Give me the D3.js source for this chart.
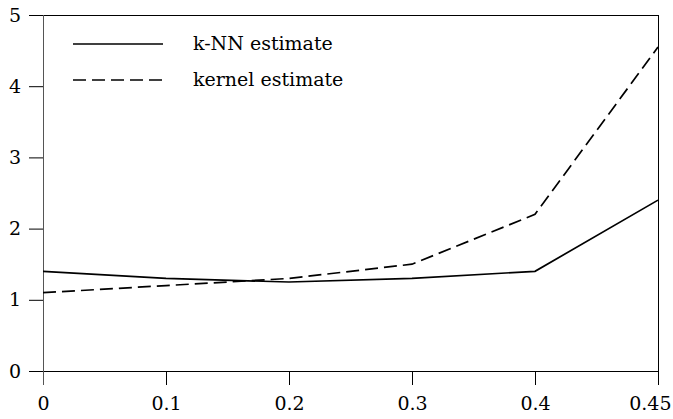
<!DOCTYPE html>
<html>
<head>
<meta charset="utf-8">
<script src="https://cdn.jsdelivr.net/npm/d3@7"></script>
<style>
  body { margin: 0; background: #fff; }
</style>
</head>
<body>
<div id="chart"></div>
<script>
const width = 673;
const height = 419;
const serif = "'DejaVu Serif', 'Liberation Serif', serif";

// data
const xLabels = ["0", "0.1", "0.2", "0.3", "0.4", "0.45"];
const knnValues = [1.4, 1.3, 1.25, 1.3, 1.4, 2.4];
const kernelValues = [1.1, 1.2, 1.3, 1.5, 2.2, 4.55];
const yTicks = [0, 1, 2, 3, 4, 5];
const seriesNames = ["k-NN estimate", "kernel estimate"];

const margin = { top: 15, right: 15, bottom: 48, left: 43 };

const svg = d3
  .select("#chart")
  .append("svg")
  .attr("width", width)
  .attr("height", height);

const x = d3
  .scalePoint()
  .domain(xLabels)
  .range([margin.left, width - margin.right])
  .padding(0);

const y = d3
  .scaleLinear()
  .domain([0, 5])
  .range([height - margin.bottom, margin.top]);

// frame
const x0 = margin.left, x1 = width - margin.right;
const y0 = height - margin.bottom, y1 = margin.top;
svg.append("line").attr("x1", x0).attr("x2", x1).attr("y1", y1 + 0.5).attr("y2", y1 + 0.5).attr("stroke", "#000");
svg.append("line").attr("x1", x1 + 0.5).attr("x2", x1 + 0.5).attr("y1", y1).attr("y2", y0).attr("stroke", "#000");

const xAxis = svg
  .append("g")
  .attr("transform", `translate(0,${y0})`)
  .call(d3.axisBottom(x).tickSize(14).tickPadding(12));

const yAxis = svg
  .append("g")
  .attr("transform", `translate(${x0},0)`)
  .call(d3.axisLeft(y).tickValues(yTicks).tickFormat(d3.format("d")).tickSize(14).tickPadding(8));

[xAxis, yAxis].forEach((g) => {
  g.attr("font-family", serif).attr("font-size", 19);
  g.selectAll("text").attr("fill", "#000");
  g.selectAll("line").attr("stroke", "#000");
  g.select(".domain").remove();
});
// last label sits left of its tick so it fits in the window
xAxis.selectAll(".tick text").filter((d) => d === "0.45").attr("text-anchor", "end").attr("x", 13);

svg.append("line").attr("x1", x0 - 14).attr("x2", x1).attr("y1", y0 + 0.5).attr("y2", y0 + 0.5).attr("stroke", "#000");
svg.append("line").attr("x1", x0 + 0.5).attr("x2", x0 + 0.5).attr("y1", y1).attr("y2", y0 + 14).attr("stroke", "#555");

const line = d3
  .line()
  .x((d, i) => x(xLabels[i]))
  .y((d) => y(d));

svg.append("path")
  .datum(knnValues)
  .attr("fill", "none")
  .attr("stroke", "#000")
  .attr("stroke-width", 1.7)
  .attr("d", line);

svg.append("path")
  .datum(kernelValues)
  .attr("fill", "none")
  .attr("stroke", "#000")
  .attr("stroke-width", 1.7)
  .attr("stroke-dasharray", "13,6")
  .attr("d", line);

// legend
const legend = svg.append("g").attr("font-family", serif).attr("font-size", 19);
seriesNames.forEach((name, i) => {
  const ly = 44 + i * 36;
  legend.append("line")
    .attr("x1", 73).attr("x2", 163)
    .attr("y1", ly).attr("y2", ly)
    .attr("stroke", "#000")
    .attr("stroke-width", 1.7)
    .attr("stroke-dasharray", i === 1 ? "13,6" : null);
  legend.append("text")
    .attr("x", 193).attr("y", ly + 6)
    .text(name);
});
</script>
</body>
</html>
